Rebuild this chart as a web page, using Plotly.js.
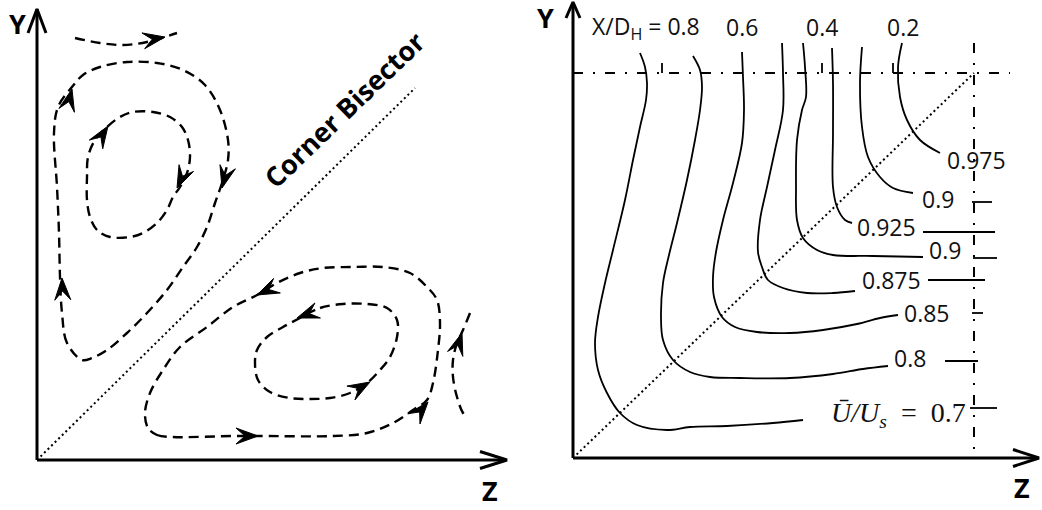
<!DOCTYPE html>
<html>
<head>
<meta charset="utf-8">
<script src="https://cdn.plot.ly/plotly-3.0.1.min.js"></script>
<style>
  html, body { margin: 0; padding: 0; background: #fff; }
  #chart { width: 1042px; height: 510px; }
</style>
</head>
<body>
<div id="chart"></div>
<script>
// Left panel: secondary-flow streamlines in a duct corner (units: px from the corner)
const topStreakX   = [38, 63, 86, 110, 140];
const topStreakY   = [422, 417, 415, 418, 427];

const upperOuterX  = [45, 30, 25, 23, 22, 20, 17, 21, 35, 46, 63, 90, 120, 146, 168, 183, 191, 191, 185, 178, 170, 160, 146, 130, 110, 90, 70, 55, 45];
const upperOuterY  = [100, 117, 147, 183, 227, 273, 327, 353, 373, 385, 393, 398, 397, 390, 375, 350, 320, 300, 277, 257, 233, 213, 193, 170, 147, 127, 110, 102, 100];

const upperInnerX  = [73, 60, 53, 50, 50, 51, 58, 70, 83, 96, 116, 133, 145, 151, 153, 150, 143, 136, 130, 120, 106, 93, 73];
const upperInnerY  = [223, 230, 243, 260, 283, 303, 320, 333, 343, 348, 348, 343, 333, 320, 303, 287, 273, 263, 250, 237, 227, 223, 223];

const lowerOuterX  = [111, 120, 136, 196, 223, 296, 330, 356, 376, 390, 396, 401, 403, 400, 390, 373, 346, 316, 286, 263, 240, 220, 196, 170, 143, 126, 113, 108, 111];
const lowerOuterY  = [32, 25, 23, 24, 24, 24, 27, 37, 50, 60, 77, 110, 137, 160, 173, 187, 193, 193, 192, 187, 177, 165, 153, 133, 113, 90, 67, 47, 32];

const lowerInnerX  = [263, 283, 306, 330, 350, 360, 360, 353, 343, 330, 313, 293, 273, 253, 233, 221, 218, 220, 230, 246, 263];
const lowerInnerY  = [142, 152, 156, 156, 152, 140, 123, 103, 90, 77, 67, 62, 61, 62, 68, 80, 97, 110, 123, 133, 142];

const edgeStreakX  = [433, 426, 420, 416, 416, 420, 426, 431];
const edgeStreakY  = [147, 130, 117, 100, 83, 63, 47, 42];

// flow-direction arrowheads: tip position and heading (deg)
const flowArrowX   = [128, 35, 25, 185, 71, 140, 221, 391, 220, 260, 333, 425];
const flowArrowY   = [423, 371, 182, 272, 334, 272, 24, 58, 165, 142, 78, 127];
const flowArrowDeg = [10, 76, 92, -105, 57, -115, 0, 50, 205, 200, 30, 72];

// Right panel: mean streamwise velocity contours (units: px from the corner)
const c07X  = [67, 72, 74, 73, 67, 60, 52, 40, 32, 25, 22, 25, 34, 47, 64, 94, 117, 154, 200, 230];
const c07Y  = [405, 391, 375, 358, 331, 298, 258, 208, 175, 141, 115, 88, 65, 45, 33, 28, 31, 32, 35, 38];
const c08X  = [120, 127, 129, 127, 122, 114, 104, 96, 90, 88, 90, 100, 117, 137, 167, 217, 260, 290, 315];
const c08Y  = [402, 388, 371, 348, 318, 278, 235, 203, 175, 141, 118, 98, 86, 81, 80, 80, 84, 89, 92];
const c085X = [169, 170, 171, 169, 160, 150, 143, 140, 141, 149, 162, 184, 217, 250, 284, 307, 325];
const c085Y = [406, 381, 348, 315, 275, 238, 206, 181, 161, 141, 131, 126, 125, 128, 134, 140, 143];
const c0875X = [209, 210, 210, 202, 194, 187, 185, 189, 195, 210, 234, 260, 282];
const c0875Y = [415, 385, 348, 308, 271, 238, 206, 191, 178, 170, 165, 165, 167];
const c09aX = [230, 232, 233, 229, 224, 223, 224, 230, 244, 260, 300, 350];
const c09aY = [415, 391, 361, 348, 318, 271, 238, 220, 208, 203, 202, 201];
const c0925X = [259, 260, 260, 260, 264, 272, 279];
const c0925Y = [410, 375, 325, 271, 251, 238, 235];
const c09bX = [289, 287, 289, 295, 307, 320, 340];
const c09bY = [411, 375, 331, 301, 281, 270, 265];
const c0975X = [329, 325, 327, 334, 347, 367];
const c0975Y = [415, 391, 361, 338, 318, 305];

const contourLabels = ['0.975', '0.9', '0.925', '0.9', '0.875', '0.85', '0.8'];
const contourLabelX = [372, 347, 282, 354, 287, 329, 319];
const contourLabelY = [298, 259, 231, 208, 178, 145, 100];

// short value marks across the duct centre-planes
const sideMarkX0 = [399, 350, 400, 355, 399, 372, 397];
const sideMarkX1 = [419, 422, 424, 412, 410, 405, 424];
const sideMarkY  = [256, 226, 200, 178, 145, 97, 50];
const topMarkX   = [89, 249, 320];

const stationLabels = ['X/D<sub>H</sub> = 0.8', '0.6', '0.4', '0.2'];
const stationX      = [17, 169, 249, 330];

// duct geometry (px from the corner)
const halfWidthZ = 401, halfWidthY = 385;

// ---------------------------------------------------------------------------
const INK = '#000';
const traces = [];

function line(x, y, opts, xa, ya) {
  traces.push(Object.assign({
    type: 'scatter', mode: 'lines', x: x, y: y,
    xaxis: xa, yaxis: ya, hoverinfo: 'skip'
  }, opts));
}

// filled barbed arrowheads, built from tip + heading
function darts(xs, ys, degs, L, W, N) {
  const px = [], py = [];
  for (let i = 0; i < xs.length; i++) {
    const a = degs[i] * Math.PI / 180;
    const dx = Math.cos(a), dy = Math.sin(a);
    const nx = -dy, ny = dx;
    const tx = xs[i], ty = ys[i];
    px.push(tx, tx - L * dx + W * nx, tx - N * dx, tx - L * dx - W * nx, tx, null);
    py.push(ty, ty - L * dy + W * ny, ty - N * dy, ty - L * dy - W * ny, ty, null);
  }
  return { x: px, y: py };
}

// open chevron heads for the coordinate axes
function chevron(tx, ty, deg, L, W) {
  const a = deg * Math.PI / 180;
  const dx = Math.cos(a), dy = Math.sin(a);
  const nx = -dy, ny = dx;
  return {
    x: [tx - L * dx + W * nx, tx, tx - L * dx - W * nx],
    y: [ty - L * dy + W * ny, ty, ty - L * dy - W * ny]
  };
}

// ---- left panel ----
const streamStyle = { line: { color: INK, width: 2.4, dash: '10px,6px', shape: 'spline', smoothing: 1 } };
[[topStreakX, topStreakY], [upperOuterX, upperOuterY], [upperInnerX, upperInnerY],
 [lowerOuterX, lowerOuterY], [lowerInnerX, lowerInnerY], [edgeStreakX, edgeStreakY]]
  .forEach(function (c) { line(c[0], c[1], streamStyle, 'x', 'y'); });

const heads = darts(flowArrowX, flowArrowY, flowArrowDeg, 22, 8, 13);
line(heads.x, heads.y, { fill: 'toself', fillcolor: INK, line: { color: INK, width: 1 } }, 'x', 'y');

// bisector
line([0, 378], [0, 372], { line: { color: INK, width: 2, dash: '2px,3px' } }, 'x', 'y');

// axes
line([0, 0], [0, 451], { line: { color: INK, width: 3 } }, 'x', 'y');
line([0, 469], [0, 0], { line: { color: INK, width: 3 } }, 'x', 'y');
let ch = chevron(0, 451, 90, 24, 9);
line(ch.x, ch.y, { line: { color: INK, width: 3 } }, 'x', 'y');
ch = chevron(470, 0, 0, 27, 8.5);
line(ch.x, ch.y, { line: { color: INK, width: 3 } }, 'x', 'y');

// ---- right panel ----
const contourStyle = { line: { color: INK, width: 1.8, shape: 'spline', smoothing: 1 } };
[[c07X, c07Y], [c08X, c08Y], [c085X, c085Y], [c0875X, c0875Y],
 [c09aX, c09aY], [c0925X, c0925Y], [c09bX, c09bY], [c0975X, c0975Y]]
  .forEach(function (c) { line(c[0], c[1], contourStyle, 'x2', 'y2'); });

// centre-planes (dash-dot) and bisector (dotted)
line([0, 437], [halfWidthY, halfWidthY], { line: { color: INK, width: 2, dash: '10px,10px,2px,10px' } }, 'x2', 'y2');
line([halfWidthZ, halfWidthZ], [415, 0], { line: { color: INK, width: 2, dash: '10px,10px,2px,10px' } }, 'x2', 'y2');
line([0, halfWidthZ], [0, halfWidthY], { line: { color: INK, width: 2, dash: '2px,3px' } }, 'x2', 'y2');

// value marks
const mx = [], my = [];
for (let i = 0; i < sideMarkY.length; i++) {
  mx.push(sideMarkX0[i], sideMarkX1[i], null);
  my.push(sideMarkY[i], sideMarkY[i], null);
}
for (let i = 0; i < topMarkX.length; i++) {
  mx.push(topMarkX[i], topMarkX[i], null);
  my.push(halfWidthY, halfWidthY + 10, null);
}
line(mx, my, { line: { color: INK, width: 1.8 } }, 'x2', 'y2');

// axes
line([0, 0], [0, 455], { line: { color: INK, width: 3 } }, 'x2', 'y2');
line([0, 465], [0, 0], { line: { color: INK, width: 3 } }, 'x2', 'y2');
ch = chevron(0, 456, 90, 16, 7);
line(ch.x, ch.y, { line: { color: INK, width: 3 } }, 'x2', 'y2');
ch = chevron(466, 0, 0, 26, 8.5);
line(ch.x, ch.y, { line: { color: INK, width: 3 } }, 'x2', 'y2');

// ---------------------------------------------------------------------------
const annotations = [];
function label(text, x, y, xa, ya, font, extra) {
  annotations.push(Object.assign({
    text: text, x: x, y: y, xref: xa, yref: ya, showarrow: false,
    xanchor: 'center', yanchor: 'middle', font: font
  }, extra || {}));
}
const axisFont = { family: 'Open Sans', size: 27, color: INK };
const numFont = { family: 'Open Sans', size: 23, color: '#111' };

label('<b>Y</b>', -20, 437, 'x', 'y', axisFont);
label('<b>Z</b>', 453, -30, 'x', 'y', axisFont);
label('<b>Corner Bisector</b>', 307, 351, 'x', 'y',
      { family: 'Open Sans', size: 27, color: INK }, { textangle: -44 });

label('<b>Y</b>', -28, 441, 'x2', 'y2', axisFont);
label('<b>Z</b>', 449, -29, 'x2', 'y2', axisFont);

for (let i = 0; i < stationLabels.length; i++) {
  label(stationLabels[i], stationX[i], 431, 'x2', 'y2', numFont,
        { xanchor: i === 0 ? 'left' : 'center' });
}
for (let i = 0; i < contourLabels.length; i++) {
  label(contourLabels[i], contourLabelX[i], contourLabelY[i], 'x2', 'y2', numFont, { xanchor: 'left' });
}
label('<i>Ū/U<sub>s</sub></i>\u00A0\u00A0=\u00A0\u00A00.7', 256, 44, 'x2', 'y2',
      { family: 'Liberation Serif', size: 28, color: '#111' }, { xanchor: 'left' });

const layout = {
  width: 1042, height: 510,
  margin: { l: 0, r: 0, t: 0, b: 0 },
  paper_bgcolor: '#fff', plot_bgcolor: '#fff',
  showlegend: false,
  xaxis:  { domain: [0, 0.5], range: [-37, 484], visible: false, fixedrange: true },
  yaxis:  { domain: [0, 1], range: [-50, 460], visible: false, fixedrange: true },
  xaxis2: { domain: [0.5, 1], range: [-52, 469], visible: false, fixedrange: true, anchor: 'y2' },
  yaxis2: { domain: [0, 1], range: [-52, 458], visible: false, fixedrange: true, anchor: 'x2' },
  annotations: annotations
};

Plotly.newPlot('chart', traces, layout, { staticPlot: true, displayModeBar: false });
</script>
</body>
</html>
